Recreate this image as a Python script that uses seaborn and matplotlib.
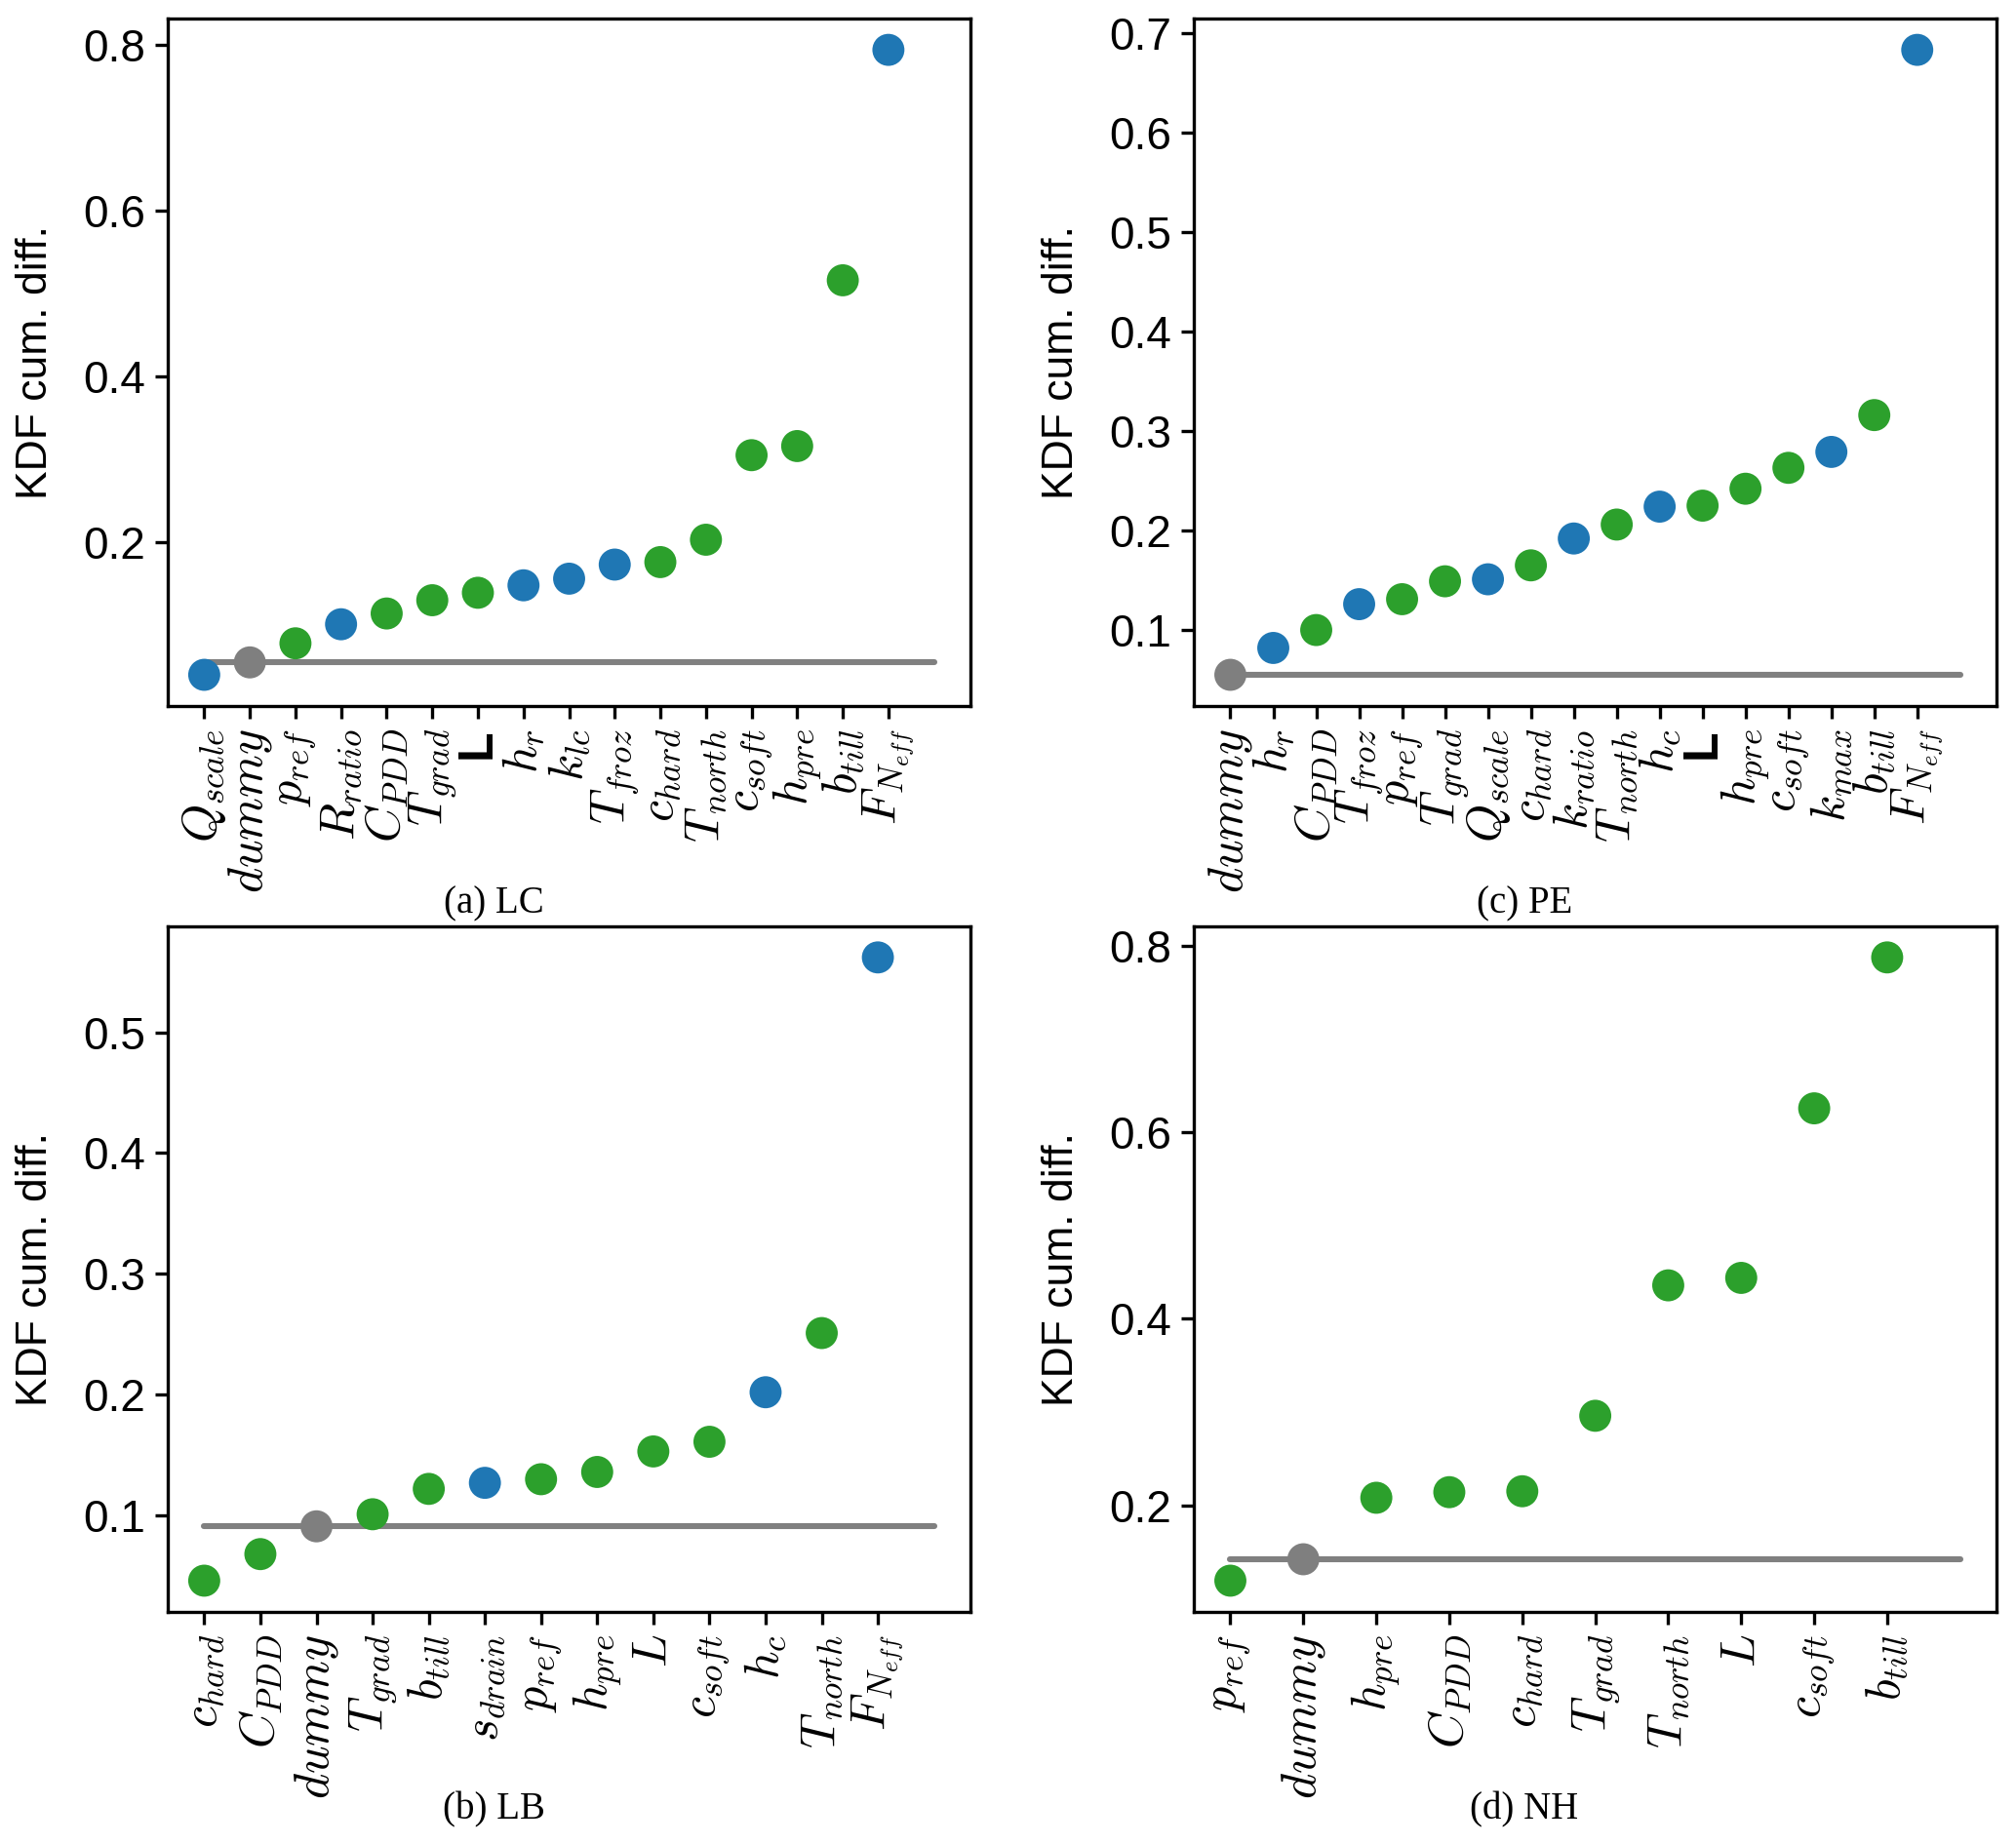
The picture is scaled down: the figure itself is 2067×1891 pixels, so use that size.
import numpy as np
import pandas as pd
import matplotlib
matplotlib.use("Agg")
import matplotlib.pyplot as plt
import seaborn as sns

sns.set_style("ticks")
plt.rcParams['font.family'] = ['Liberation Sans', 'DejaVu Sans']
plt.rcParams['mathtext.fontset'] = 'cm'
plt.rcParams['text.color'] = 'black'
plt.rcParams['axes.labelcolor'] = 'black'
plt.rcParams['xtick.color'] = 'black'
plt.rcParams['ytick.color'] = 'black'

# colour groups: 'b' = blue, 'g' = green, 'd' = dummy (reference level)
PALETTE = {'b': '#1f77b4', 'g': '#2ca02c', 'd': '#7f7f7f'}

# (a) LC
lc_labels = [r'$Q_{scale}$', r'$dummy$', r'$p_{ref}$', r'$R_{ratio}$', r'$C_{PDD}$',
             r'$T_{grad}$', 'L', r'$h_r$', r'$k_{lc}$', r'$T_{froz}$', r'$c_{hard}$',
             r'$T_{north}$', r'$c_{soft}$', r'$h_{pre}$', r'$b_{till}$', r'$F_{N_{eff}}$']
lc_values = [0.040, 0.055, 0.078, 0.101, 0.114, 0.130, 0.139, 0.148, 0.156, 0.173,
             0.176, 0.203, 0.305, 0.316, 0.516, 0.794]
lc_groups = ['b', 'd', 'g', 'b', 'g', 'g', 'g', 'b', 'b', 'b', 'g', 'g', 'g', 'g', 'g', 'b']

# (b) LB
lb_labels = [r'$c_{hard}$', r'$C_{PDD}$', r'$dummy$', r'$T_{grad}$', r'$b_{till}$',
             r'$s_{drain}$', r'$p_{ref}$', r'$h_{pre}$', r'$L$', r'$c_{soft}$', r'$h_c$',
             r'$T_{north}$', r'$F_{N_{eff}}$']
lb_values = [0.046, 0.068, 0.091, 0.101, 0.122, 0.127, 0.130, 0.136, 0.153, 0.161,
             0.202, 0.251, 0.562]
lb_groups = ['g', 'g', 'd', 'g', 'g', 'b', 'g', 'g', 'g', 'g', 'b', 'g', 'b']

# (c) PE
pe_labels = [r'$dummy$', r'$h_r$', r'$C_{PDD}$', r'$T_{froz}$', r'$p_{ref}$', r'$T_{grad}$',
             r'$Q_{scale}$', r'$c_{hard}$', r'$k_{ratio}$', r'$T_{north}$', r'$h_c$', 'L',
             r'$h_{pre}$', r'$c_{soft}$', r'$k_{max}$', r'$b_{till}$', r'$F_{N_{eff}}$']
pe_values = [0.055, 0.082, 0.100, 0.126, 0.131, 0.149, 0.151, 0.165, 0.192, 0.206,
             0.224, 0.225, 0.242, 0.263, 0.279, 0.316, 0.683]
pe_groups = ['d', 'b', 'g', 'b', 'g', 'g', 'b', 'g', 'b', 'g', 'b', 'g', 'g', 'g', 'b', 'g', 'b']

# (d) NH
nh_labels = [r'$p_{ref}$', r'$dummy$', r'$h_{pre}$', r'$C_{PDD}$', r'$c_{hard}$',
             r'$T_{grad}$', r'$T_{north}$', r'$L$', r'$c_{soft}$', r'$b_{till}$']
nh_values = [0.119, 0.142, 0.208, 0.214, 0.215, 0.296, 0.436, 0.444, 0.626, 0.788]
nh_groups = ['g', 'd', 'g', 'g', 'g', 'g', 'g', 'g', 'g', 'g']


def draw_panel(ax, labels, values, groups):
    n = len(labels)
    df = pd.DataFrame({'pos': np.arange(n), 'value': values, 'group': groups})
    dummy_val = df.loc[df['group'] == 'd', 'value'].iloc[0]
    # reference line at the dummy level
    ax.plot([0, n], [dummy_val, dummy_val], color='#808080', lw=2.2, zorder=1)
    sns.scatterplot(data=df, x='pos', y='value', hue='group', palette=PALETTE,
                    s=140, linewidth=0, legend=False, ax=ax, zorder=3)
    ax.set_xticks(np.arange(n))
    ax.set_xticklabels(labels, rotation=90, fontsize=18)
    for t in ax.get_xticklabels():
        if t.get_text() == 'L':
            t.set_fontweight('bold')
    ax.tick_params(axis='y', labelsize=16.5)
    ax.tick_params(length=4.8, width=1.2)
    ax.set_xlabel('')
    ax.set_ylabel('KDF cum. diff.', fontsize=16, labelpad=10)
    for sp in ax.spines.values():
        sp.set_linewidth(1.2)
        sp.set_color('black')


fig = plt.figure(figsize=(10.335, 9.455), dpi=200)
ax_a = fig.add_axes([0.0832, 0.6171, 0.3982, 0.3728])
ax_c = fig.add_axes([0.5922, 0.6171, 0.3982, 0.3728])
ax_b = fig.add_axes([0.0832, 0.1259, 0.3982, 0.3718])
ax_d = fig.add_axes([0.5922, 0.1259, 0.3982, 0.3718])

draw_panel(ax_a, lc_labels, lc_values, lc_groups)
draw_panel(ax_b, lb_labels, lb_values, lb_groups)
draw_panel(ax_c, pe_labels, pe_values, pe_groups)
draw_panel(ax_d, nh_labels, nh_values, nh_groups)

ax_a.set_yticks([0.2, 0.4, 0.6, 0.8])
ax_c.set_yticks([0.1, 0.2, 0.3, 0.4, 0.5, 0.6, 0.7])
ax_b.set_yticks([0.1, 0.2, 0.3, 0.4, 0.5])
ax_d.set_yticks([0.2, 0.4, 0.6, 0.8])

cap = dict(fontsize=14, family=['Liberation Serif', 'DejaVu Serif'], ha='center', va='center')
fig.text(0.245, 0.510, '(a) LC', **cap)
fig.text(0.756, 0.510, '(c) PE', **cap)
fig.text(0.245, 0.0185, '(b) LB', **cap)
fig.text(0.756, 0.0185, '(d) NH', **cap)

fig.savefig('out.png', dpi=200)
